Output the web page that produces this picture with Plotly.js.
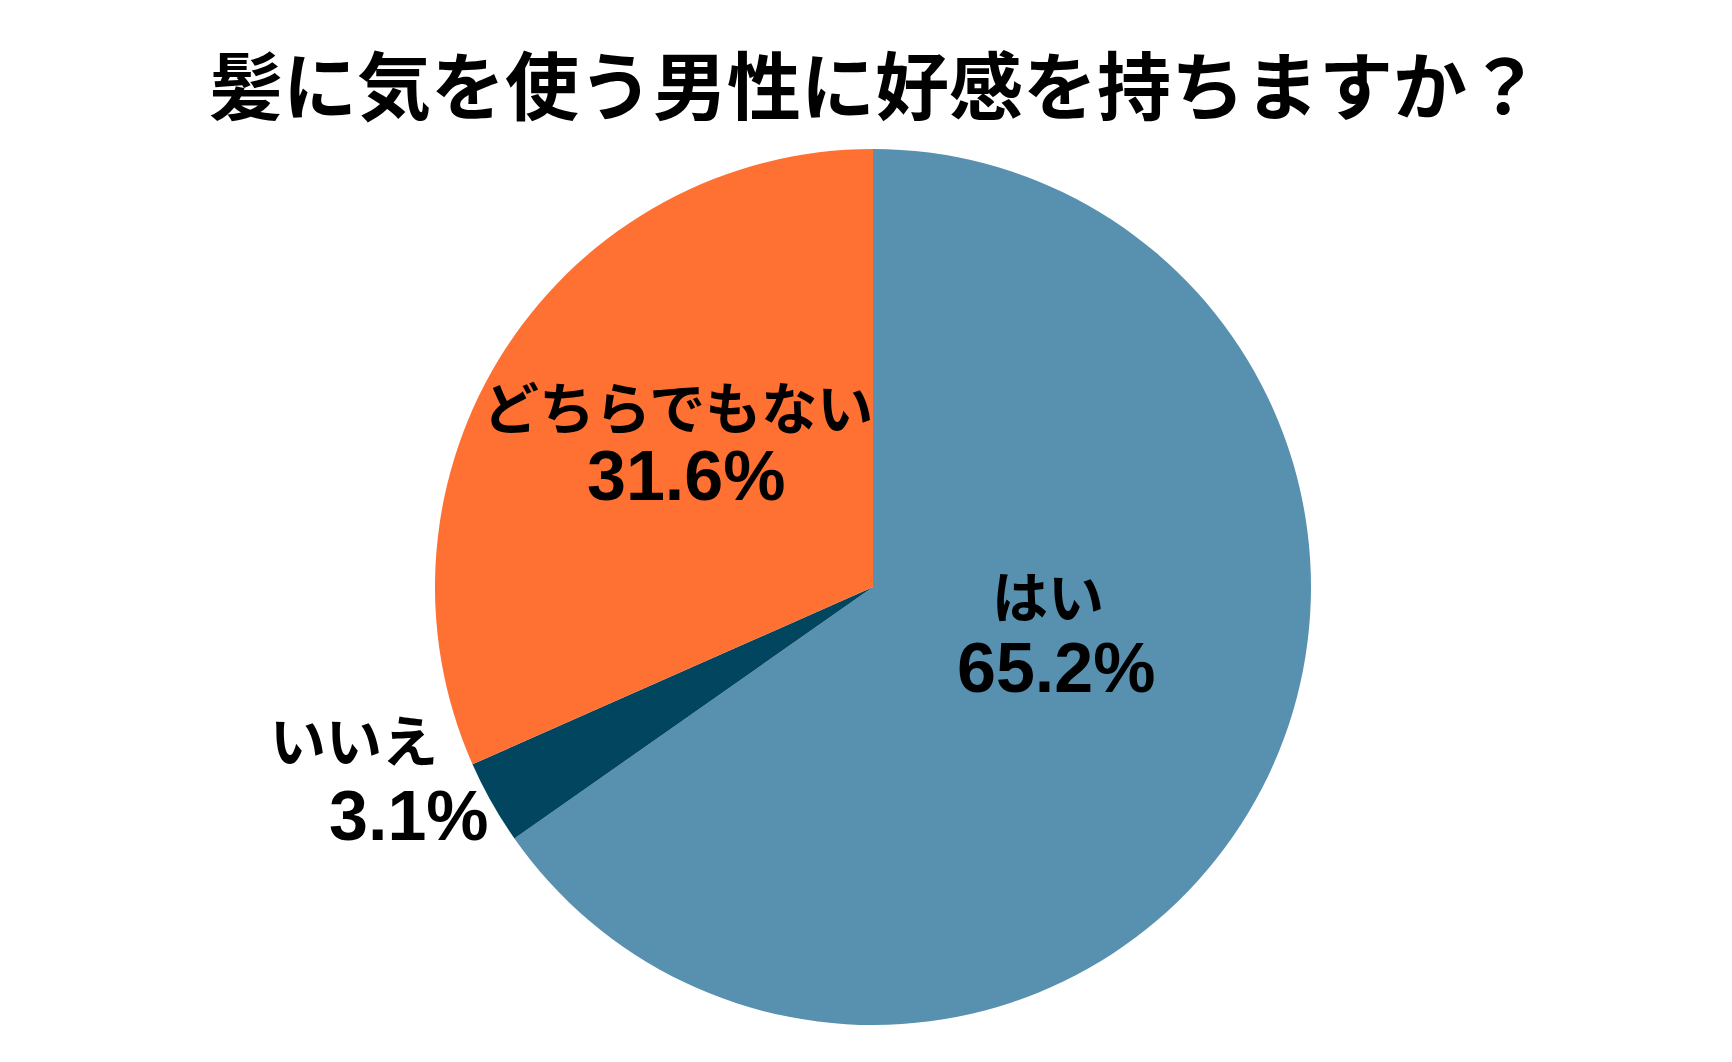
<!DOCTYPE html>
<html>
<head>
<meta charset="utf-8">
<script src="https://cdn.plot.ly/plotly-3.0.1.min.js"></script>
<style>html,body{margin:0;padding:0;background:#fff;}#chart{width:1732px;height:1062px;}</style>
</head>
<body>
<div id="chart"></div>
<script>
const titleText = "髪に気を使う男性に好感を持ちますか？";
const labels = ["はい", "いいえ", "どちらでもない"];
const values = [65.2, 3.1, 31.6];
const colors = ["#5891AF", "#02455F", "#FF7033"];

// label placement (paper coords) for each slice: [name x, name y, pct x, pct y]
const labelPos = [
  [1048/1732, 1 - 593/1062, 1056/1732, 1 - 668/1062],
  [354/1732, 1 - 737/1062, 409/1732, 1 - 816/1062],
  [678/1732, 1 - 404/1062, 686/1732, 1 - 476/1062]
];

const jp = '"Noto Sans CJK JP", sans-serif';
const num = '"Liberation Sans", Arial, sans-serif';

const annotations = [];
labels.forEach((lab, i) => {
  const p = labelPos[i];
  annotations.push({
    xref: "paper", yref: "paper", x: p[0], y: p[1],
    xanchor: "center", yanchor: "middle", showarrow: false,
    text: lab, font: {family: jp, size: 56, color: "#000", weight: 700}
  });
  annotations.push({
    xref: "paper", yref: "paper", x: p[2], y: p[3],
    xanchor: "center", yanchor: "middle", showarrow: false,
    text: "<b>" + values[i].toFixed(1) + "%</b>", font: {family: num, size: 70, color: "#000"}
  });
});

const data = [{
  type: "pie",
  labels: labels,
  values: values,
  sort: false,
  direction: "clockwise",
  rotation: 0,
  marker: {colors: colors, line: {width: 0}},
  textinfo: "none",
  hoverinfo: "none",
  showlegend: false,
  domain: {x: [435/1732, 1311/1732], y: [37/1062, 913/1062]}
}];

const layout = {
  width: 1732, height: 1062,
  margin: {l: 0, r: 0, t: 0, b: 0},
  paper_bgcolor: "#fff",
  title: {
    text: "<b>" + titleText + "</b>",
    x: 875/1732, xanchor: "center",
    y: 1 - 88/1062, yanchor: "middle", yref: "container",
    font: {family: jp, size: 74, color: "#000"}
  },
  annotations: annotations
};

Plotly.newPlot("chart", data, layout, {displayModeBar: false, staticPlot: true});
</script>
</body>
</html>
